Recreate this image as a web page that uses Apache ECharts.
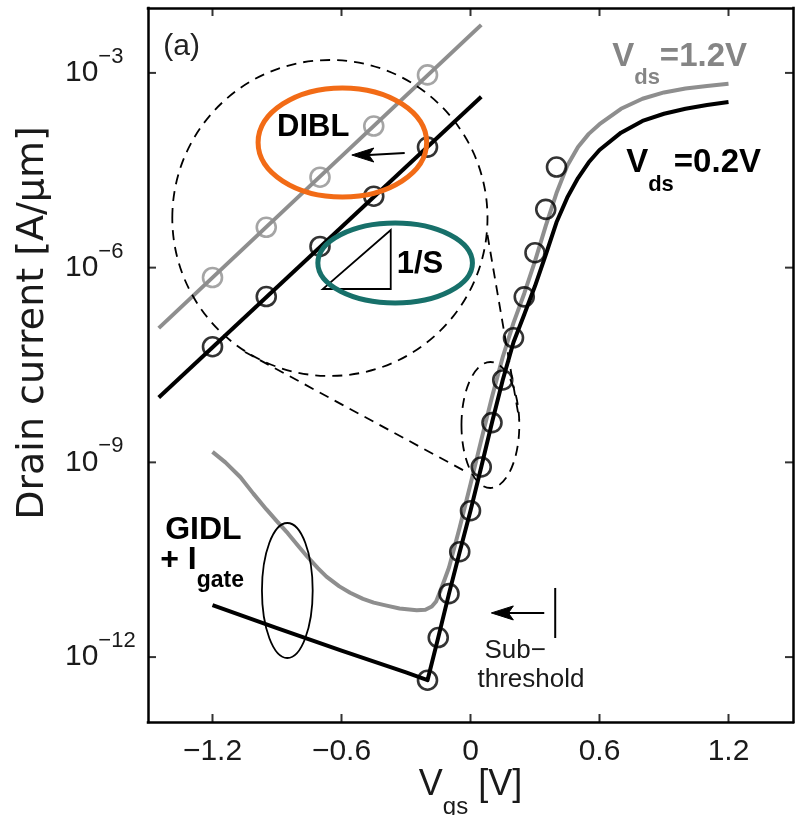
<!DOCTYPE html>
<html><head><meta charset="utf-8">
<script src="https://cdn.jsdelivr.net/npm/echarts@6/dist/echarts.min.js"></script>
<style>html,body{margin:0;padding:0;background:#fff}#c{width:799px;height:815px}</style>
</head><body><div id="c"></div>
<script>
// ---------- data ----------
// Simulated Id-Vgs, Vds = 1.2 V (gray)
const vgsSim12 = [-1.2,-1.14,-1.07,-1.01,-0.95,-0.9,-0.85,-0.8,-0.76,-0.71,-0.67,-0.61,-0.56,-0.5,-0.45,-0.39,-0.33,-0.25,-0.21,-0.18,-0.16,-0.14,-0.12,-0.1,-0.05,0,0.05,0.1,0.15,0.2,0.25,0.3,0.35,0.4,0.45,0.5,0.55,0.6,0.7,0.8,0.9,1.0,1.1,1.2];
const idSim12 = [1.45e-9,1.0e-9,5.9e-10,3.3e-10,1.9e-10,1.23e-10,8.1e-11,5.1e-11,3.55e-11,2.35e-11,1.74e-11,1.23e-11,9.8e-12,7.9e-12,6.9e-12,6.2e-12,5.6e-12,5.25e-12,5.35e-12,6.0e-12,7.2e-12,1.05e-11,1.58e-11,2.4e-11,1.0e-10,4.6e-10,2.2e-9,1.02e-8,4.2e-8,1.41e-7,4.0e-7,1.26e-6,4.4e-6,1.41e-5,3.7e-5,7.2e-5,1.15e-4,1.62e-4,2.8e-4,4.0e-4,5.0e-4,5.75e-4,6.3e-4,6.8e-4];
// Simulated Id-Vgs, Vds = 0.2 V (black)
const vgsSim02 = [-1.2,-0.9,-0.6,-0.3,-0.2,-0.15,-0.1,-0.05,0,0.05,0.1,0.15,0.2,0.25,0.3,0.35,0.4,0.45,0.5,0.55,0.6,0.7,0.8,0.9,1.0,1.1,1.2];
const idSim02 = [6.3e-12,2.8e-12,1.26e-12,5.8e-13,4.4e-13,2.0e-12,9.5e-12,4.2e-11,1.8e-10,8.5e-10,4.1e-9,1.86e-8,7.1e-8,1.9e-7,5.2e-7,1.58e-6,5.0e-6,1.2e-5,2.4e-5,4.2e-5,6.5e-5,1.2e-4,1.82e-4,2.35e-4,2.8e-4,3.2e-4,3.55e-4];
// Sub-threshold markers (circles)
const vgsMarks = [-0.2,-0.15,-0.1,-0.05,0,0.05,0.1,0.15,0.2,0.25,0.3,0.35,0.4];
const idMarks = [4.4e-13,2.0e-12,9.5e-12,4.2e-11,1.8e-10,8.5e-10,4.1e-9,1.86e-8,8.3e-8,3.55e-7,1.7e-6,7.9e-6,3.55e-5];
// Magnified inset (DIBL / slope)
const vgsInsetMarks = [-1.2,-0.95,-0.7,-0.45,-0.2];
const idInsetMarks12 = [7.05e-7,4.18e-6,2.47e-5,1.52e-4,9.31e-4];
const idInsetMarks02 = [6.05e-8,3.59e-7,2.12e-6,1.26e-5,7.19e-5];
const vgsInsetLine = [-1.45,0.05];
const idInsetLine12 = [1.17e-7,5.5e-3];
const idInsetLine02 = [1.0e-8,4.3e-4];
// ticks
const xTicks = [-1.2,-0.6,0,0.6,1.2];
const yTicks = [1e-12,1e-9,1e-6,1e-3];
const xRange = [-1.5, 1.5];
const yRange = [1e-13, 1e-2];

// ---------- chart ----------
const FONT = 'Liberation Sans';
const GRAY = '#8e8e8e';
const TXT = '#1a1a1a';
const pairs = (xs, ys) => xs.map((x, i) => [x, ys[i]]);
const fmtX = v => (v < 0 ? '\u2212' + Math.abs(v) : String(v));
const fmtY = v => { const e = Math.round(Math.log10(v)); return '{b|10}{s|' + (e < 0 ? '\u2212' : '') + Math.abs(e) + '}'; };

const chart = echarts.init(document.getElementById('c'));
const frameLine = { show: true, onZero: false, lineStyle: { color: '#000', width: 2.5, cap: 'square' } };
const noTick = { show: false };

// inward tick marks on the four frame edges, drawn as rect symbols placed by the axis scales
const TL = 8;
function tickSeries(name, data, size, offset) {
  return { name: name, type: 'scatter', data: data, symbol: 'rect', symbolSize: size, symbolOffset: offset,
    itemStyle: { color: '#000', borderWidth: 0 }, silent: true, clip: false, z: 8 };
}

const option = {
  animation: false,
  backgroundColor: '#fff',
  grid: { left: 148, right: 6, top: 8, bottom: 93, containLabel: false, outerBoundsMode: 'none', show: false },
  xAxis: [
    { type: 'value', min: xRange[0], max: xRange[1], position: 'bottom',
      axisLine: frameLine, splitLine: { show: false }, axisTick: noTick,
      axisLabel: { customValues: xTicks, formatter: fmtX, fontFamily: FONT, fontSize: 30, color: TXT, margin: 15 } },
    { type: 'value', min: xRange[0], max: xRange[1], position: 'top',
      axisLine: frameLine, splitLine: { show: false }, axisTick: noTick,
      axisLabel: { show: false } }
  ],
  yAxis: [
    { type: 'log', logBase: 10, min: yRange[0], max: yRange[1], position: 'left',
      axisLine: frameLine, splitLine: { show: false }, axisTick: noTick,
      axisLabel: { customValues: yTicks, formatter: fmtY, align: 'left', margin: 83,
        rich: { b: { fontFamily: FONT, fontSize: 30, color: TXT },
                s: { fontFamily: FONT, fontSize: 22, color: TXT, padding: [0, 0, 32, 0] } } },
      name: 'Drain current [A/\u03bcm]', nameLocation: 'middle', nameRotate: 90, nameGap: 96,
      nameTextStyle: { fontFamily: 'DejaVu Sans', fontSize: 38, color: TXT, padding: [0, 0, 0, 84] } },
    { type: 'log', logBase: 10, min: yRange[0], max: yRange[1], position: 'right',
      axisLine: frameLine, splitLine: { show: false }, axisTick: noTick,
      axisLabel: { show: false } }
  ],
  series: [
    { name: 'Vds=1.2V', type: 'line', data: pairs(vgsSim12, idSim12), showSymbol: false,
      lineStyle: { color: GRAY, width: 4, join: 'round' }, z: 2 },
    { name: 'Vds=0.2V', type: 'line', data: pairs(vgsSim02, idSim02), showSymbol: false,
      lineStyle: { color: '#000', width: 4, join: 'round' }, z: 3 },
    { name: 'inset 1.2V', type: 'line', data: pairs(vgsInsetLine, idInsetLine12), showSymbol: false,
      lineStyle: { color: GRAY, width: 4 }, z: 2 },
    { name: 'inset 0.2V', type: 'line', data: pairs(vgsInsetLine, idInsetLine02), showSymbol: false,
      lineStyle: { color: '#000', width: 4 }, z: 3 },
    { name: 'marks', type: 'scatter', data: pairs(vgsMarks, idMarks), symbol: 'circle', symbolSize: 19,
      itemStyle: { color: 'rgba(0,0,0,0)', borderColor: '#000', borderWidth: 2.6 }, z: 5 },
    { name: 'inset marks 1.2', type: 'scatter', data: pairs(vgsInsetMarks, idInsetMarks12), symbol: 'circle', symbolSize: 19,
      itemStyle: { color: 'rgba(0,0,0,0)', borderColor: GRAY, borderWidth: 2.6 }, z: 5 },
    { name: 'inset marks 0.2', type: 'scatter', data: pairs(vgsInsetMarks, idInsetMarks02), symbol: 'circle', symbolSize: 19,
      itemStyle: { color: 'rgba(0,0,0,0)', borderColor: '#000', borderWidth: 2.6 }, z: 5 },
    tickSeries('ticks bottom', xTicks.map(v => [v, yRange[0]]), [2, TL], [0, -TL / 2]),
    tickSeries('ticks top', xTicks.map(v => [v, yRange[1]]), [2, TL], [0, TL / 2]),
    tickSeries('ticks left', yTicks.map(v => [xRange[0], v]), [TL, 2], [TL / 2, 0]),
    tickSeries('ticks right', yTicks.map(v => [xRange[1], v]), [TL, 2], [-TL / 2, 0])
  ]
};
chart.setOption(option);

// ---------- annotations (anchored in data space: [Vgs, log10(Id)]) ----------
const P = (x, e) => chart.convertToPixel({ xAxisIndex: 0, yAxisIndex: 0 }, [x, Math.pow(10, e)]);
const PV = (x, y) => chart.convertToPixel({ xAxisIndex: 0, yAxisIndex: 0 }, [x, y]);
function ellipse(box, style) {
  const a = P(box[0], box[1]), c = P(box[2], box[3]);
  return { type: 'ellipse', z: 20, silent: true,
    shape: { cx: (a[0] + c[0]) / 2, cy: (a[1] + c[1]) / 2, rx: Math.abs(c[0] - a[0]) / 2, ry: Math.abs(c[1] - a[1]) / 2 },
    style: Object.assign({ fill: 'none' }, style) };
}
function seg(p, q, style) {
  const a = P(p[0], p[1]), b = P(q[0], q[1]);
  return { type: 'line', z: 20, silent: true, shape: { x1: a[0], y1: a[1], x2: b[0], y2: b[1] }, style: Object.assign({ fill: 'none' }, style) };
}
function arrowLeft(tip, tail) {
  const a = P(tip[0], tip[1]), b = P(tail[0], tail[1]);
  const L = 22, H = 7, N = 5;
  return [
    { type: 'line', z: 20, shape: { x1: a[0] + L - N, y1: a[1], x2: b[0], y2: b[1] }, style: { stroke: '#000', lineWidth: 2 } },
    { type: 'polygon', z: 20, shape: { points: [[a[0], a[1]], [a[0] + L, a[1] - H], [a[0] + L - N, a[1]], [a[0] + L, a[1] + H]] }, style: { fill: '#000', stroke: '#000', lineWidth: 1 } }
  ];
}
function textAt(x, y, str, size, weight, color, rich, align) {
  const st = { text: str, fontFamily: FONT, fontSize: size, fontWeight: weight, fill: color,
    align: align || 'left', verticalAlign: 'middle', textAlign: align || 'left', textVerticalAlign: 'middle' };
  if (rich) st.rich = rich;
  return { type: 'text', z: 30, silent: true, x: x, y: y, style: st };
}
function text(x, e, str, size, weight, color, rich) {
  const p = P(x, e);
  return textAt(p[0], p[1], str, size, weight, color, rich);
}
const dash = { stroke: '#000', lineWidth: 1.8, lineDash: [10, 7] };
const subRich = (size, sub, color, pad, weight) => ({
  v: { fontFamily: FONT, fontSize: size, fontWeight: weight || 'bold', fill: color, color: color },
  s: { fontFamily: FONT, fontSize: sub, fontWeight: weight || 'bold', fill: color, color: color, padding: [pad, 0, 0, 0] }
});
const tri = [P(-0.687, -6.329), P(-0.371, -6.329), P(-0.371, -5.420)];
const corner0 = PV(xRange[0], yRange[0]);
const corner1 = PV(xRange[1], yRange[1]);

const graphics = [
  // x-axis title V_gs [V], centred under the axis
  textAt((corner0[0] + corner1[0]) / 2, corner0[1] + 63, '{v|V}{s|gs}{v| [V]}', 36, 'normal', TXT, subRich(36, 24, TXT, 44, 'normal'), 'center'),
  ellipse([-1.387, -2.801, 0.079, -7.669], dash),
  seg([0.079, -5.497], [0.227, -8.347], dash),
  seg([-1.049, -7.300], [-0.019, -9.148], dash),
  ellipse([-0.042, -7.454, 0.227, -9.395], dash),
  ellipse([-0.970, -9.934, -0.734, -12.014], { stroke: '#000', lineWidth: 1.8 }),
  { type: 'polygon', z: 20, silent: true, shape: { points: tri }, style: { fill: 'none', stroke: '#000', lineWidth: 1.8 } },
  ellipse([-0.988, -3.232, -0.204, -4.912], { stroke: '#F26B16', lineWidth: 5 }),
  ellipse([-0.710, -5.312, 0.009, -6.545], { stroke: '#17706A', lineWidth: 5 }),
  ...arrowLeft([-0.552, -4.265], [-0.306, -4.234]),
  ...arrowLeft([0.097, -11.32], [0.343, -11.32]),
  seg([0.394, -10.935], [0.394, -11.706], { stroke: '#000', lineWidth: 2 }),
  text(-1.429, -2.60, '(a)', 30, 'normal', '#222'),
  text(-0.900, -3.841, 'DIBL', 31, 'bold', '#000'),
  text(-0.343, -5.944, '1/S', 31, 'bold', '#000'),
  text(0.659, -2.747, '{v|V}{s|ds}{v|=1.2V}', 33, 'bold', '#858585', subRich(33, 22, '#858585', 42)),
  text(0.724, -4.388, '{v|V}{s|ds}{v|=0.2V}', 33, 'bold', '#000', subRich(33, 22, '#000', 44)),
  text(-1.420, -10.042, 'GIDL', 32, 'bold', '#000'),
  text(-1.443, -10.504, '{v|+ I}{s|gate}', 32, 'bold', '#000', subRich(32, 23, '#000', 42)),
  text(0.065, -11.906, 'Sub\u2212', 26, 'normal', TXT),
  text(0.0325, -12.353, 'threshold', 26, 'normal', TXT)
];
chart.setOption({ graphic: graphics });
</script></body></html>
